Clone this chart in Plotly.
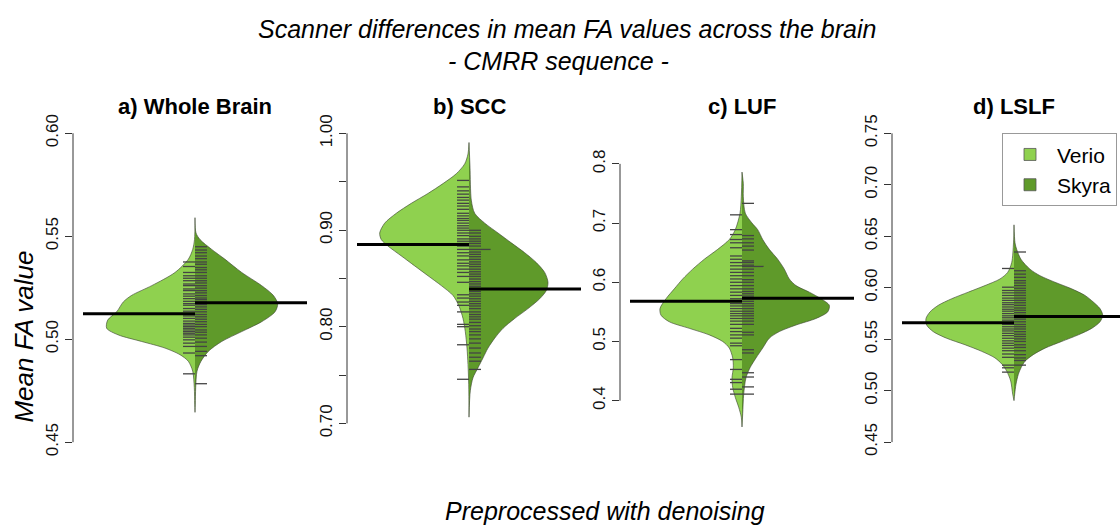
import plotly.graph_objects as go

# ---------------- data ----------------
groups = ["Verio", "Skyra"]
panel_titles = ["a) Whole Brain", "b) SCC", "c) LUF", "d) LSLF"]

# bean outlines: FA value grid and half-width of the density (axis units)
wb_verio_y = [0.4645, 0.4685, 0.4765, 0.4845, 0.4893, 0.4925, 0.4957, 0.4989, 0.5021, 0.5053, 0.5093,
              0.5133, 0.5181, 0.5213, 0.5260, 0.5324, 0.5388, 0.5436, 0.5484, 0.5590]
wb_verio_w = [0, 0.3, 0.7, 2.3, 6.7, 15, 30, 53.3, 76.7, 88.3, 87.3, 78.3, 71.7, 63.3, 43.3, 20, 6.7, 2.3, 0.5, 0]
wb_skyra_y = [0.4645, 0.4685, 0.4765, 0.4845, 0.4893, 0.4941, 0.4989, 0.5037, 0.5085, 0.5133, 0.5172,
              0.5213, 0.5260, 0.5324, 0.5388, 0.5436, 0.5484, 0.5516, 0.5590]
wb_skyra_w = [0, 0.3, 0.7, 2, 6, 13.3, 26.7, 46.7, 66.7, 80, 82.7, 78.3, 66.7, 46.7, 30, 16.7, 5, 1, 0]

scc_verio_y = [0.7064, 0.7405, 0.7609, 0.7779, 0.7949, 0.8085, 0.8221, 0.8323, 0.8425, 0.8527, 0.8629, 0.8732,
               0.8834, 0.8901, 0.8969, 0.9071, 0.9173, 0.9276, 0.9378, 0.9480, 0.9582, 0.9684, 0.9786, 0.9905]
scc_verio_w = [0, 0.3, 1, 2, 3.7, 6, 10.3, 16, 27.7, 41, 54.3, 67.7, 81, 87.7, 89.3, 84.3, 72.7, 57.7, 41, 26,
               12.7, 4.3, 1, 0]
scc_skyra_y = [0.7064, 0.7337, 0.7472, 0.7575, 0.7677, 0.7779, 0.7881, 0.7983, 0.8085, 0.8187, 0.8289, 0.8374,
               0.8459, 0.8561, 0.8663, 0.8765, 0.8867, 0.8969, 0.9071, 0.9173, 0.9309, 0.9650, 0.9905]
scc_skyra_w = [0, 1.3, 4, 9, 14, 19, 25.7, 34, 45.7, 59, 70.7, 77.3, 79, 75.7, 67.3, 55.7, 42.3, 29, 15.7, 5.7,
               2.3, 1, 0]

luf_verio_y = [0.3556, 0.3722, 0.3889, 0.4056, 0.4222, 0.4389, 0.4556, 0.4722, 0.4889, 0.5000, 0.5111, 0.5222,
               0.5333, 0.5444, 0.5556, 0.5722, 0.5889, 0.6056, 0.6222, 0.6389, 0.6556, 0.6722, 0.6889, 0.7167,
               0.7444, 0.7861]
luf_verio_w = [0, 0.7, 3.3, 6.7, 9.3, 10, 8.7, 9.3, 12.7, 19.3, 32.7, 52.7, 72.7, 81, 82, 76, 67.7, 59.3, 49.3,
               37.7, 24.3, 12.7, 6.7, 2, 0.7, 0]
luf_skyra_y = [0.3556, 0.3778, 0.4111, 0.4389, 0.4556, 0.4722, 0.4889, 0.5056, 0.5167, 0.5278, 0.5389, 0.5500,
               0.5611, 0.5722, 0.5833, 0.5944, 0.6056, 0.6222, 0.6389, 0.6556, 0.6722, 0.6889, 0.7000, 0.7167,
               0.7444, 0.7667, 0.7861]
luf_skyra_w = [0, 0.7, 1.7, 4, 8, 14, 20.7, 27.3, 37.3, 54, 74, 85.7, 87.3, 79, 67.3, 54, 47.3, 42.3, 35.7, 27.3,
               20.7, 15.7, 10, 3.3, 1.3, 1.3, 0]

lslf_verio_y = [0.4903, 0.4967, 0.5094, 0.5190, 0.5254, 0.5318, 0.5382, 0.5446, 0.5509, 0.5573, 0.5637, 0.5701,
                0.5765, 0.5829, 0.5893, 0.5957, 0.6021, 0.6085, 0.6149, 0.6244, 0.6436, 0.6611]
lslf_verio_w = [0, 1.3, 3.3, 7.3, 11.7, 19, 32.3, 49, 67.3, 80.7, 87.3, 88, 84, 75.7, 62.3, 45.7, 29, 14, 6.3,
                2.3, 0.5, 0]
lslf_skyra_y = [0.4903, 0.4967, 0.5063, 0.5158, 0.5222, 0.5286, 0.5350, 0.5413, 0.5478, 0.5542, 0.5605, 0.5669,
                0.5733, 0.5797, 0.5861, 0.5925, 0.5989, 0.6053, 0.6117, 0.6180, 0.6276, 0.6372, 0.6436, 0.6611]
lslf_skyra_w = [0, 0.7, 2, 4.3, 7, 11, 19.3, 31, 47.7, 64.3, 77.7, 86, 88.7, 86, 79.3, 71, 57.7, 41, 26, 16, 7,
                2.7, 1, 0]

# individual observations (bean lines)
wb_verio_obs = [0.5375, 0.5353, 0.5324, 0.5308, 0.5296, 0.5284, 0.5268, 0.5260, 0.5244, 0.5236, 0.5220, 0.5209,
                0.5197, 0.5184, 0.5173, 0.5165, 0.5149, 0.5136, 0.5125, 0.5113, 0.5101, 0.5088, 0.5077, 0.5069,
                0.5061, 0.5053, 0.5045, 0.5037, 0.5029, 0.5021, 0.5010, 0.4997, 0.4981, 0.4965, 0.4933, 0.4832]
wb_skyra_obs = [0.5449, 0.5433, 0.5420, 0.5404, 0.5391, 0.5375, 0.5364, 0.5348, 0.5337, 0.5324, 0.5308, 0.5296,
                0.5284, 0.5273, 0.5260, 0.5248, 0.5236, 0.5225, 0.5212, 0.5200, 0.5192, 0.5181, 0.5168, 0.5157,
                0.5145, 0.5133, 0.5120, 0.5109, 0.5097, 0.5085, 0.5072, 0.5061, 0.5045, 0.5034, 0.5021, 0.5005,
                0.4986, 0.4965, 0.4941, 0.4920, 0.4784]
scc_verio_obs = [0.9513, 0.9446, 0.9405, 0.9371, 0.9337, 0.9309, 0.9276, 0.9248, 0.9214, 0.9173, 0.9146, 0.9119,
                 0.9099, 0.9071, 0.9044, 0.9020, 0.8997, 0.8969, 0.8942, 0.8908, 0.8884, 0.8861, 0.8834, 0.8799,
                 0.8765, 0.8732, 0.8691, 0.8656, 0.8629, 0.8595, 0.8561, 0.8520, 0.8459, 0.8330, 0.8296, 0.8255,
                 0.8221, 0.8153, 0.8024, 0.8000, 0.7813, 0.7456]
scc_skyra_obs = [0.8997, 0.8969, 0.8935, 0.8908, 0.8884, 0.8861, 0.8834, 0.8772, 0.8748, 0.8724, 0.8697, 0.8670,
                 0.8646, 0.8622, 0.8595, 0.8568, 0.8544, 0.8520, 0.8493, 0.8466, 0.8442, 0.8418, 0.8391, 0.8364,
                 0.8340, 0.8316, 0.8289, 0.8262, 0.8238, 0.8214, 0.8187, 0.8153, 0.8126, 0.8102, 0.8078, 0.8044,
                 0.8010, 0.7976, 0.7949, 0.7915, 0.7874, 0.7830, 0.7779, 0.7728, 0.7684, 0.7643, 0.7558]
scc_skyra_double = [0.8799]
luf_verio_obs = [0.7139, 0.6889, 0.6806, 0.6722, 0.6667, 0.6583, 0.6444, 0.6389, 0.6333, 0.6278, 0.6222, 0.6167,
                 0.6111, 0.6056, 0.6000, 0.5944, 0.5889, 0.5833, 0.5778, 0.5722, 0.5678, 0.5639, 0.5600, 0.5556,
                 0.5511, 0.5472, 0.5433, 0.5389, 0.5344, 0.5289, 0.5222, 0.5167, 0.5111, 0.5056, 0.4972, 0.4928,
                 0.4694, 0.4528, 0.4361, 0.4306, 0.4194, 0.4111]
luf_skyra_obs = [0.7333, 0.6789, 0.6733, 0.6667, 0.6611, 0.6544, 0.6361, 0.6333, 0.6289, 0.6222, 0.6167, 0.6111,
                 0.6044, 0.6000, 0.5944, 0.5889, 0.5844, 0.5806, 0.5767, 0.5722, 0.5678, 0.5639, 0.5600, 0.5556,
                 0.5511, 0.5472, 0.5433, 0.5389, 0.5344, 0.5289, 0.5156, 0.5111, 0.4861, 0.4806, 0.4472, 0.4400,
                 0.4233, 0.4111]
luf_skyra_double = [0.6267]
lslf_verio_obs = [0.6187, 0.6005, 0.5973, 0.5950, 0.5925, 0.5899, 0.5877, 0.5854, 0.5835, 0.5813, 0.5791, 0.5772,
                  0.5749, 0.5727, 0.5708, 0.5685, 0.5663, 0.5643, 0.5621, 0.5599, 0.5580, 0.5557, 0.5535, 0.5509,
                  0.5484, 0.5461, 0.5439, 0.5413, 0.5388, 0.5356, 0.5324, 0.5248, 0.5222, 0.5180]
lslf_skyra_obs = [0.6347, 0.6165, 0.6132, 0.6101, 0.6069, 0.6046, 0.6021, 0.5995, 0.5973, 0.5950, 0.5925, 0.5899,
                  0.5877, 0.5854, 0.5829, 0.5803, 0.5781, 0.5758, 0.5733, 0.5714, 0.5695, 0.5669, 0.5643, 0.5621,
                  0.5599, 0.5573, 0.5548, 0.5526, 0.5503, 0.5478, 0.5446, 0.5420, 0.5388, 0.5350, 0.5318, 0.5293,
                  0.5248]

# group means
verio_means = [0.5124, 0.885, 0.568, 0.566]
skyra_means = [0.5177, 0.839, 0.573, 0.572]

# axis ticks
tick_vals = [[0.45, 0.50, 0.55, 0.60],
             [0.70, 0.75, 0.80, 0.85, 0.90, 0.95, 1.00],
             [0.4, 0.5, 0.6, 0.7, 0.8],
             [0.45, 0.50, 0.55, 0.60, 0.65, 0.70, 0.75]]
tick_text = [["0.45", "0.50", "0.55", "0.60"],
             ["0.70", "", "0.80", "", "0.90", "", "1.00"],
             ["0.4", "0.5", "0.6", "0.7", "0.8"],
             ["0.45", "0.50", "0.55", "0.60", "0.65", "0.70", "0.75"]]

# ---------------- styling / layout ----------------
W, H = 1120, 529
VERIO_COL = "#8FD14F"
SKYRA_COL = "#5F9A2A"
OUTLINE = "rgba(60,70,50,0.9)"
RUG_COL = "rgba(0,0,0,0.82)"
RUG_LEN = 12
MEAN_LEN = 112
FONT = "Liberation Sans, Arial, sans-serif"

x_dom_px = [(73, 317), (347, 591), (620, 864), (892, 1120)]
x_rng = [(-122, 122), (-122, 122), (-122, 122), (-122, 106)]
y_rng = [(0.4438, 0.6062), (0.6673, 1.0133), (0.3083, 0.8733), (0.4375, 0.7625)]
y_dom = [(H - 455) / H, (H - 116) / H]

profiles = [
    (wb_verio_y, wb_verio_w, wb_skyra_y, wb_skyra_w),
    (scc_verio_y, scc_verio_w, scc_skyra_y, scc_skyra_w),
    (luf_verio_y, luf_verio_w, luf_skyra_y, luf_skyra_w),
    (lslf_verio_y, lslf_verio_w, lslf_skyra_y, lslf_skyra_w),
]
observations = [
    (wb_verio_obs, wb_skyra_obs, []),
    (scc_verio_obs, scc_skyra_obs, scc_skyra_double),
    (luf_verio_obs, luf_skyra_obs, luf_skyra_double),
    (lslf_verio_obs, lslf_skyra_obs, []),
]

fig = go.Figure()
shapes = []
annotations = []

for i in range(4):
    sfx = "" if i == 0 else str(i + 1)
    xa, ya = "x" + sfx, "y" + sfx
    vy, vw, sy, sw = profiles[i]

    # Verio half (left)
    fig.add_trace(go.Scatter(x=[-w for w in vw], y=vy, mode="lines", fill="toself",
                             fillcolor=VERIO_COL, line=dict(color=OUTLINE, width=0.7, shape="spline", smoothing=0.8),
                             xaxis=xa, yaxis=ya, showlegend=False, hoverinfo="skip"))
    # Skyra half (right)
    fig.add_trace(go.Scatter(x=list(sw), y=sy, mode="lines", fill="toself",
                             fillcolor=SKYRA_COL, line=dict(color=OUTLINE, width=0.7, shape="spline", smoothing=0.8),
                             xaxis=xa, yaxis=ya, showlegend=False, hoverinfo="skip"))

    vo, so, sd = observations[i]
    sym = 1.0 / 1.4
    fig.add_trace(go.Scatter(x=[-RUG_LEN / 2] * len(vo), y=vo, mode="markers",
                             marker=dict(symbol="line-ew", size=RUG_LEN * sym, color=RUG_COL, line=dict(width=1.3)),
                             xaxis=xa, yaxis=ya, showlegend=False, hoverinfo="skip", cliponaxis=False))
    fig.add_trace(go.Scatter(x=[RUG_LEN / 2] * len(so), y=so, mode="markers",
                             marker=dict(symbol="line-ew", size=RUG_LEN * sym, color=RUG_COL, line=dict(width=1.3)),
                             xaxis=xa, yaxis=ya, showlegend=False, hoverinfo="skip", cliponaxis=False))
    if sd:
        fig.add_trace(go.Scatter(x=[RUG_LEN * 0.9] * len(sd), y=sd, mode="markers",
                                 marker=dict(symbol="line-ew", size=RUG_LEN * 1.8 * sym, color=RUG_COL,
                                             line=dict(width=1.3)),
                                 xaxis=xa, yaxis=ya, showlegend=False, hoverinfo="skip", cliponaxis=False))

    # mean lines
    fig.add_trace(go.Scatter(x=[-MEAN_LEN, 0], y=[verio_means[i]] * 2, mode="lines",
                             line=dict(color="black", width=3), xaxis=xa, yaxis=ya,
                             showlegend=False, hoverinfo="skip"))
    fig.add_trace(go.Scatter(x=[0, MEAN_LEN], y=[skyra_means[i]] * 2, mode="lines",
                             line=dict(color="black", width=3), xaxis=xa, yaxis=ya,
                             showlegend=False, hoverinfo="skip"))

    x0, x1 = x_dom_px[i]
    fig.update_layout({
        "xaxis" + sfx: dict(domain=[x0 / W, x1 / W], range=list(x_rng[i]), visible=False,
                            anchor=ya, fixedrange=True),
        "yaxis" + sfx: dict(domain=y_dom, range=list(y_rng[i]), anchor=xa, showgrid=False, zeroline=False,
                            showline=False, ticks="outside", ticklen=7, tickwidth=1, tickcolor="#333",
                            tickvals=tick_vals[i], ticktext=tick_text[i], tickangle=-90,
                            tickfont=dict(family=FONT, size=17, color="#111"), fixedrange=True),
    })
    shapes.append(dict(type="line", xref=xa + " domain", yref=ya, x0=0, x1=0,
                       y0=tick_vals[i][0], y1=tick_vals[i][-1], line=dict(color="#333", width=1)))

    centre_px = x0 + (0 - x_rng[i][0]) / (x_rng[i][1] - x_rng[i][0]) * (x1 - x0)
    annotations.append(dict(text="<b>" + panel_titles[i] + "</b>", xref="paper", yref="paper",
                            x=centre_px / W, y=1 - 102 / H, xanchor="center", yanchor="middle",
                            showarrow=False, font=dict(family=FONT, size=22, color="black")))

# legend entries
for name, col in zip(groups, [VERIO_COL, SKYRA_COL]):
    fig.add_trace(go.Bar(x=[None], y=[None], name=name, marker=dict(color=col, line=dict(color="#555", width=0.8)),
                         xaxis="x4", yaxis="y4", showlegend=True))

annotations += [
    dict(text="<i>Scanner differences in mean FA values across the brain</i>", xref="paper", yref="paper",
         x=567 / W, y=1 - 23 / H, xanchor="center", yanchor="middle", showarrow=False,
         font=dict(family=FONT, size=25, color="black")),
    dict(text="<i>- CMRR sequence -</i>", xref="paper", yref="paper",
         x=558 / W, y=1 - 56 / H, xanchor="center", yanchor="middle", showarrow=False,
         font=dict(family=FONT, size=25, color="black")),
    dict(text="<i>Mean FA value</i>", xref="paper", yref="paper", textangle=-90,
         x=24 / W, y=1 - 335 / H, xanchor="center", yanchor="middle", showarrow=False,
         font=dict(family=FONT, size=26, color="black")),
    dict(text="<i>Preprocessed with denoising</i>", xref="paper", yref="paper",
         x=605 / W, y=1 - 512 / H, xanchor="center", yanchor="middle", showarrow=False,
         font=dict(family=FONT, size=25, color="black")),
]

fig.update_layout(
    width=W, height=H, margin=dict(l=0, r=0, t=0, b=0),
    paper_bgcolor="white", plot_bgcolor="white",
    shapes=shapes, annotations=annotations,
    showlegend=True,
    legend=dict(x=1002 / W, y=1 - 129 / H, xanchor="left", yanchor="top",
                bordercolor="#999", borderwidth=1, bgcolor="white",
                font=dict(family=FONT, size=21, color="black"), tracegroupgap=0, itemwidth=44),
    font=dict(family=FONT),
)

fig.write_html("out.html")
